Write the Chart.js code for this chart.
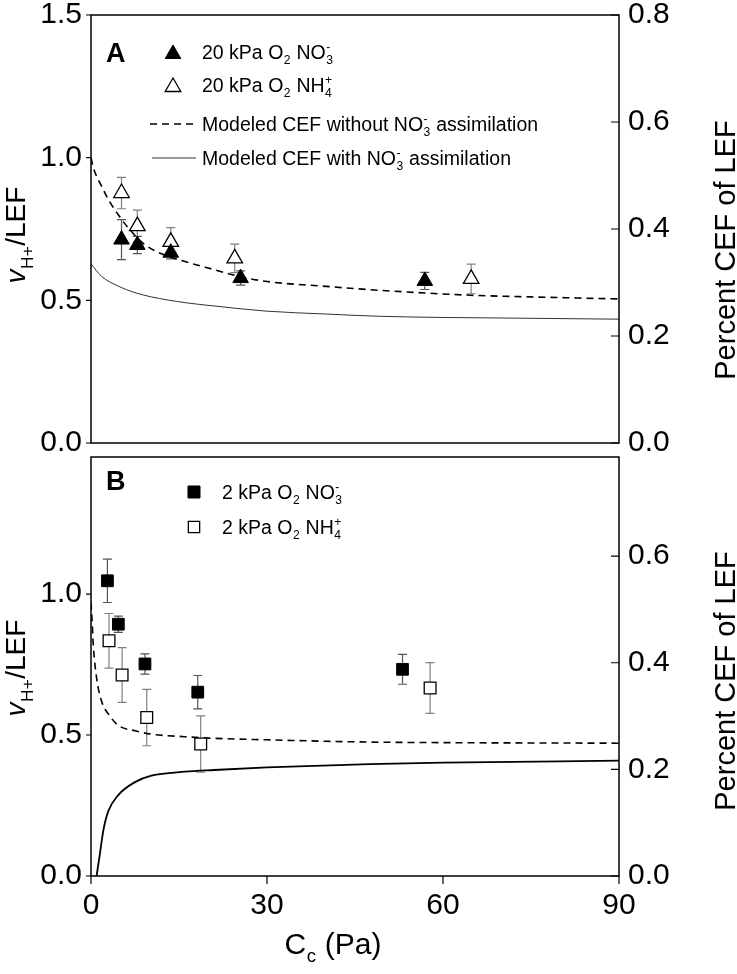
<!DOCTYPE html>
<html>
<head>
<meta charset="utf-8">
<script src="https://cdn.jsdelivr.net/npm/chart.js@4.4.0/dist/chart.umd.min.js"></script>
<style>
html, body { margin: 0; padding: 0; background: #fff; }
#wrap { position: relative; width: 737px; height: 974px; overflow: hidden; }
#wrap canvas { position: absolute; left: 0; }
</style>
</head>
<body>
<div id="wrap">
  <canvas id="chartA" width="737" height="490" style="top:-20px;width:737px;height:490px"></canvas>
  <canvas id="chartB" width="737" height="544" style="top:430px;width:737px;height:544px"></canvas>
</div>
<script>
// tick labels
const xTicks = [0, 30, 60, 90];
const leftTicksA = [0, 0.5, 1.0, 1.5];
const rightTicksA = [0, 0.2, 0.4, 0.6, 0.8];
const leftTicksB = [0, 0.5, 1.0];
const rightTicksB = [0, 0.2, 0.4, 0.6];

// panel A, 20 kPa O2
const aNo3X = [5.2, 7.9, 13.6, 25.5, 56.9];
const aNo3Y = [0.713, 0.694, 0.667, 0.578, 0.568];
const aNo3Err = [0.07, 0.03, 0.022, 0.025, 0.03];
const aNh4X = [5.2, 7.9, 13.6, 24.5, 64.8];
const aNh4Y = [0.876, 0.76, 0.705, 0.647, 0.575];
const aNh4Err = [0.055, 0.056, 0.05, 0.05, 0.052];
const aDashX = [0, 0.4, 1.8, 3.2, 4.65, 6.1, 8.9, 11.8, 16, 21.1, 25, 30, 40, 49.3, 64.6, 75, 90];
const aDashY = [1.0, 0.965, 0.90, 0.845, 0.80, 0.76, 0.70, 0.665, 0.636, 0.607, 0.585, 0.566, 0.549, 0.535, 0.518, 0.512, 0.505];
const aSolidX = [0, 1.8, 4.65, 7.5, 10.3, 16, 21.1, 30, 40, 49.3, 60, 75, 90];
const aSolidY = [0.628, 0.584, 0.55, 0.527, 0.512, 0.492, 0.48, 0.462, 0.452, 0.444, 0.44, 0.437, 0.434];

// panel B, 2 kPa O2
const bNo3X = [2.8, 4.66, 9.2, 18.2, 53.1];
const bNo3Y = [1.047, 0.893, 0.752, 0.652, 0.733];
const bNo3Err = [0.077, 0.029, 0.036, 0.059, 0.053];
const bNh4X = [3.07, 5.3, 9.5, 18.7, 57.8];
const bNh4Y = [0.834, 0.713, 0.562, 0.468, 0.667];
const bNh4Err = [0.097, 0.097, 0.10, 0.10, 0.09];
const bDashX = [0, 0.2, 0.4, 0.97, 1.8, 3.2, 4.66, 7.5, 10.3, 16, 20, 30, 47.5, 60, 90];
const bDashY = [0.97, 0.90, 0.816, 0.70, 0.62, 0.568, 0.534, 0.515, 0.503, 0.494, 0.489, 0.483, 0.475, 0.473, 0.471];
const bSolidX = [0.95, 1.53, 2.1, 2.95, 4.65, 7.5, 10.3, 16, 21, 30, 47.5, 60, 90];
const bSolidY = [0.0, 0.08, 0.161, 0.23, 0.287, 0.333, 0.356, 0.37, 0.376, 0.385, 0.397, 0.402, 0.409];

const FAMILY = "'Liberation Sans', Arial, sans-serif";

function pts(xs, ys) {
    return xs.map((x, i) => ({ x: x, y: ys[i] }));
}

function markerSet(label, xs, ys, errs, style, filled, errColor, radius) {
    return {
        label: label,
        data: pts(xs, ys),
        errors: errs,
        errColor: errColor,
        pointStyle: style,
        pointRadius: radius,
        pointHoverRadius: radius,
        backgroundColor: filled ? '#000' : '#fff',
        borderColor: '#000',
        pointBorderWidth: filled ? 1 : 1.3,
        showLine: false
    };
}

function curveSet(label, xs, ys, dash, width, color) {
    return {
        label: label,
        data: pts(xs, ys),
        showLine: true,
        borderColor: color,
        borderWidth: width,
        borderDash: dash,
        pointRadius: 0,
        pointHoverRadius: 0,
        cubicInterpolationMode: 'monotone',
        fill: false
    };
}

// sub/superscript text on the canvas
function fontStr(size, bold, italic) {
    return (italic ? 'italic ' : '') + (bold ? 'bold ' : '') + size + 'px ' + FAMILY;
}

function richWidth(ctx, parts, size, bold) {
    let w = 0;
    parts.forEach(p => {
        if (p.t) { ctx.font = fontStr(size, bold, p.it); w += ctx.measureText(p.t).width; }
        if (p.sub || p.sup) {
            ctx.font = fontStr(size * 0.62, bold);
            const a = p.sub ? ctx.measureText(p.sub).width : 0;
            const b = p.sup ? ctx.measureText(p.sup).width : 0;
            w += Math.max(a, b) + 1;
        }
    });
    return w;
}

function drawRich(ctx, parts, x, y, size, bold, align) {
    let cx = x;
    if (align === 'center') cx = x - richWidth(ctx, parts, size, bold) / 2;
    ctx.textBaseline = 'alphabetic';
    ctx.textAlign = 'left';
    ctx.fillStyle = '#000';
    parts.forEach(p => {
        if (p.t) {
            ctx.font = fontStr(size, bold, p.it);
            ctx.fillText(p.t, cx, y);
            cx += ctx.measureText(p.t).width;
        }
        if (p.sub || p.sup) {
            ctx.font = fontStr(size * 0.62, bold);
            let w = 0;
            if (p.sub) { ctx.fillText(p.sub, cx + 0.5, y + size * 0.28); w = ctx.measureText(p.sub).width; }
            if (p.sup) { ctx.fillText(p.sup, cx + 0.5, y - size * 0.42); w = Math.max(w, ctx.measureText(p.sup).width); }
            cx += w + 1;
        }
    });
}

function drawMarker(ctx, style, filled, x, y, r) {
    ctx.save();
    ctx.beginPath();
    if (style === 'triangle') {
        ctx.moveTo(x, y - r);
        ctx.lineTo(x + Math.sin(2 * Math.PI / 3) * r, y + r / 2);
        ctx.lineTo(x - Math.sin(2 * Math.PI / 3) * r, y + r / 2);
        ctx.closePath();
    } else {
        const s = Math.SQRT1_2 * r;
        ctx.rect(x - s, y - s, 2 * s, 2 * s);
    }
    ctx.fillStyle = filled ? '#000' : '#fff';
    ctx.fill();
    ctx.lineWidth = filled ? 1 : 1.3;
    ctx.strokeStyle = '#000';
    ctx.stroke();
    ctx.restore();
}

const errorBarPlugin = {
    id: 'errorBars',
    beforeDatasetsDraw(chart) {
        const ctx = chart.ctx;
        const xs = chart.scales.x, ys = chart.scales.y;
        ctx.save();
        chart.data.datasets.forEach(ds => {
            if (!ds.errors) return;
            ctx.strokeStyle = ds.errColor;
            ctx.lineWidth = 1.2;
            ds.data.forEach((p, i) => {
                const px = xs.getPixelForValue(p.x);
                const top = ys.getPixelForValue(p.y + ds.errors[i]);
                const bot = ys.getPixelForValue(p.y - ds.errors[i]);
                ctx.beginPath();
                ctx.moveTo(px, top); ctx.lineTo(px, bot);
                ctx.moveTo(px - 4.5, top); ctx.lineTo(px + 4.5, top);
                ctx.moveTo(px - 4.5, bot); ctx.lineTo(px + 4.5, bot);
                ctx.stroke();
            });
        });
        ctx.restore();
    }
};

const framePlugin = {
    id: 'frame',
    afterDatasetsDraw(chart, args, opts) {
        const ctx = chart.ctx;
        const a = chart.chartArea;
        const s = chart.scales;
        ctx.save();
        ctx.strokeStyle = '#000';
        ctx.lineWidth = 1.5;
        ctx.strokeRect(a.left, a.top, a.right - a.left, a.bottom - a.top);
        ctx.lineWidth = 1.2;
        ctx.beginPath();
        s.y.ticks.forEach(t => {
            const py = s.y.getPixelForValue(t.value);
            ctx.moveTo(a.left - 5, py); ctx.lineTo(a.left, py);
        });
        s.y2.ticks.forEach(t => {
            const py = s.y2.getPixelForValue(t.value);
            ctx.moveTo(a.right - 8, py); ctx.lineTo(a.right, py);
        });
        if (opts.xTicks) {
            s.x.ticks.forEach(t => {
                const px = s.x.getPixelForValue(t.value);
                ctx.moveTo(px, a.bottom); ctx.lineTo(px, a.bottom + 8);
            });
        }
        ctx.stroke();
        ctx.restore();
    }
};

const textPlugin = {
    id: 'texts',
    afterDraw(chart, args, opts) {
        const ctx = chart.ctx;
        const oy = opts.offsetY;
        ctx.save();
        opts.items.forEach(it => {
            if (it.kind === 'text') {
                drawRich(ctx, it.parts, it.x, it.y - oy, it.size, it.bold, it.align);
            } else if (it.kind === 'vtext') {
                ctx.save();
                ctx.translate(it.x, it.y - oy);
                ctx.rotate(-Math.PI / 2);
                drawRich(ctx, it.parts, 0, 0, it.size, false, 'center');
                ctx.restore();
            } else if (it.kind === 'marker') {
                drawMarker(ctx, it.style, it.filled, it.x, it.y - oy, it.r);
            } else if (it.kind === 'line') {
                ctx.save();
                ctx.strokeStyle = it.color;
                ctx.lineWidth = it.width;
                ctx.setLineDash(it.dash);
                ctx.beginPath();
                ctx.moveTo(it.x1, it.y - oy); ctx.lineTo(it.x2, it.y - oy);
                ctx.stroke();
                ctx.restore();
            }
        });
        ctx.restore();
    }
};

const tickFont = { family: FAMILY, size: 30 };

function buildScales(leftMax, rightMax, leftTicks, rightTicks, showX, xHeight) {
    return {
        x: {
            type: 'linear', position: 'bottom', min: 0, max: 90,
            afterBuildTicks: s => { s.ticks = xTicks.map(v => ({ value: v })); },
            afterFit: s => { s.height = xHeight; },
            ticks: { display: showX, font: tickFont, color: '#000', padding: 12, maxRotation: 0, autoSkip: false },
            grid: { display: false, drawTicks: false },
            border: { display: false }
        },
        y: {
            type: 'linear', position: 'left', min: 0, max: leftMax,
            afterBuildTicks: s => { s.ticks = leftTicks.map(v => ({ value: v })); },
            afterFit: s => { s.width = 91; },
            ticks: { font: tickFont, color: '#000', padding: 9, autoSkip: false, callback: v => v.toFixed(1) },
            grid: { display: false, drawTicks: false },
            border: { display: false }
        },
        y2: {
            type: 'linear', position: 'right', min: 0, max: rightMax,
            afterBuildTicks: s => { s.ticks = rightTicks.map(v => ({ value: v })); },
            afterFit: s => { s.width = 118; },
            ticks: { font: tickFont, color: '#000', padding: 9, autoSkip: false, callback: v => v.toFixed(1) },
            grid: { display: false, drawTicks: false },
            border: { display: false }
        }
    };
}

const leftTitle = [{ t: 'v', it: true }, { sub: 'H+' }, { t: '/LEF' }];
const rightTitle = [{ t: 'Percent CEF of LEF' }];

const chartA = new Chart(document.getElementById('chartA'), {
    type: 'scatter',
    data: {
        datasets: [
            markerSet('20 kPa O2 NO3-', aNo3X, aNo3Y, aNo3Err, 'triangle', true, '#555', 9),
            markerSet('20 kPa O2 NH4+', aNh4X, aNh4Y, aNh4Err, 'triangle', false, '#808080', 9),
            curveSet('Modeled CEF without NO3- assimilation', aDashX, aDashY, [7, 5], 1.6, '#000'),
            curveSet('Modeled CEF with NO3- assimilation', aSolidX, aSolidY, [], 1, '#333')
        ]
    },
    options: {
        responsive: false,
        animation: false,
        layout: { padding: { top: 35, left: 0, right: 0, bottom: 0 } },
        scales: buildScales(1.5, 0.8, leftTicksA, rightTicksA, false, 24),
        plugins: {
            legend: { display: false },
            tooltip: { enabled: false },
            frame: { xTicks: false },
            texts: {
                offsetY: -20,
                items: [
                    { kind: 'text', parts: [{ t: 'A' }], x: 106, y: 62, size: 27, bold: true },
                    { kind: 'marker', style: 'triangle', filled: true, x: 173, y: 54, r: 9 },
                    { kind: 'text', parts: [{ t: '20 kPa O' }, { sub: '2' }, { t: ' NO' }, { sub: '3', sup: '-' }], x: 202, y: 59, size: 19.5 },
                    { kind: 'marker', style: 'triangle', filled: false, x: 173, y: 87, r: 9 },
                    { kind: 'text', parts: [{ t: '20 kPa O' }, { sub: '2' }, { t: ' NH' }, { sub: '4', sup: '+' }], x: 202, y: 92, size: 19.5 },
                    { kind: 'line', x1: 150, x2: 198, y: 124, dash: [7, 5], width: 1.6, color: '#000' },
                    { kind: 'text', parts: [{ t: 'Modeled CEF without NO' }, { sub: '3', sup: '-' }, { t: ' assimilation' }], x: 202, y: 131, size: 19.5 },
                    { kind: 'line', x1: 152, x2: 196, y: 158, dash: [], width: 1, color: '#333' },
                    { kind: 'text', parts: [{ t: 'Modeled CEF with NO' }, { sub: '3', sup: '-' }, { t: ' assimilation' }], x: 202, y: 165, size: 19.5 },
                    { kind: 'vtext', parts: leftTitle, x: 25, y: 235, size: 28 },
                    { kind: 'vtext', parts: rightTitle, x: 735, y: 250, size: 29 }
                ]
            }
        }
    },
    plugins: [errorBarPlugin, framePlugin, textPlugin]
});

const chartB = new Chart(document.getElementById('chartB'), {
    type: 'scatter',
    data: {
        datasets: [
            markerSet('2 kPa O2 NO3-', bNo3X, bNo3Y, bNo3Err, 'rect', true, '#555', 8.3),
            markerSet('2 kPa O2 NH4+', bNh4X, bNh4Y, bNh4Err, 'rect', false, '#808080', 8.3),
            curveSet('Modeled CEF without NO3- assimilation', bDashX, bDashY, [7, 5], 1.6, '#000'),
            curveSet('Modeled CEF with NO3- assimilation', bSolidX, bSolidY, [], 1.8, '#000')
        ]
    },
    options: {
        responsive: false,
        animation: false,
        layout: { padding: { top: 16, left: 0, right: 0, bottom: 0 } },
        scales: buildScales(1.486, 0.786, leftTicksB, rightTicksB, true, 98),
        plugins: {
            legend: { display: false },
            tooltip: { enabled: false },
            frame: { xTicks: true },
            texts: {
                offsetY: 430,
                items: [
                    { kind: 'text', parts: [{ t: 'B' }], x: 106, y: 490, size: 27, bold: true },
                    { kind: 'marker', style: 'rect', filled: true, x: 194, y: 492, r: 8.5 },
                    { kind: 'text', parts: [{ t: '2 kPa O' }, { sub: '2' }, { t: ' NO' }, { sub: '3', sup: '-' }], x: 222, y: 499, size: 19.5 },
                    { kind: 'marker', style: 'rect', filled: false, x: 194, y: 527, r: 8 },
                    { kind: 'text', parts: [{ t: '2 kPa O' }, { sub: '2' }, { t: ' NH' }, { sub: '4', sup: '+' }], x: 222, y: 534, size: 19.5 },
                    { kind: 'vtext', parts: leftTitle, x: 25, y: 668, size: 28 },
                    { kind: 'vtext', parts: rightTitle, x: 735, y: 681, size: 29 },
                    { kind: 'text', parts: [{ t: 'C' }, { sub: 'c' }, { t: ' (Pa)' }], x: 333, y: 954, size: 30, align: 'center' }
                ]
            }
        }
    },
    plugins: [errorBarPlugin, framePlugin, textPlugin]
});
</script>
</body>
</html>
